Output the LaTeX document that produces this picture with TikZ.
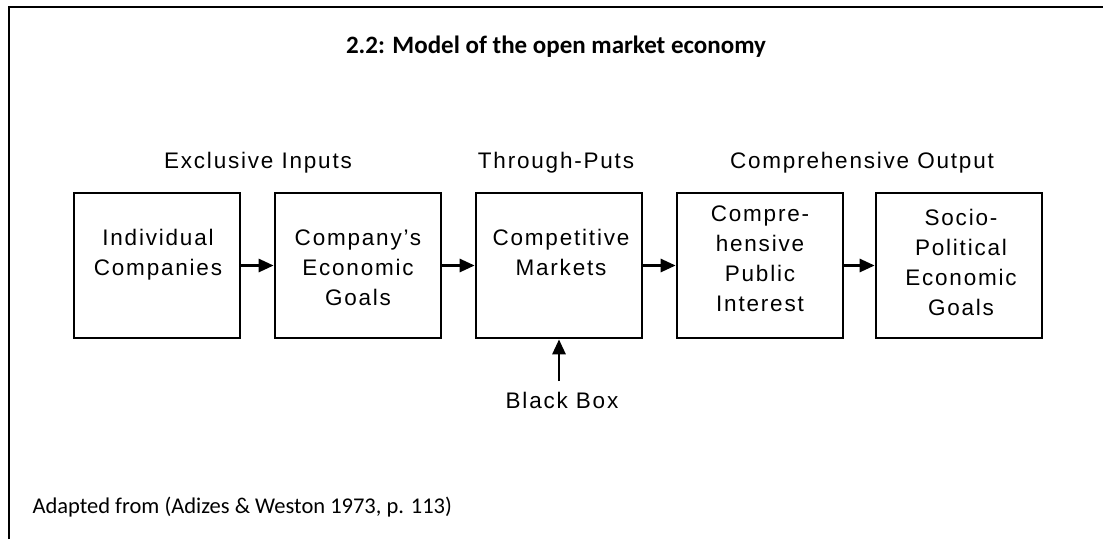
\documentclass[tikz,border=0pt]{standalone}
\usepackage{fontspec}
\setmainfont{Carlito}
\newfontfamily\boxfont[LetterSpace=8]{Liberation Sans}
\usetikzlibrary{arrows.meta, positioning}

\begin{document}
\begin{tikzpicture}[x=1pt, y=-1pt,
        block/.style={draw, line width=2.7pt, minimum width=166pt, minimum height=145pt, inner sep=0pt},
        blocktext/.style={align=center, inner sep=0pt, font=\boxfont\fontsize{22.5}{30}\selectfont},
        flow/.style={line width=2.8pt, -{Triangle[length=15pt, width=13pt]}}
    ]
    \useasboundingbox (0,0) rectangle (1103,539);
    \draw[line width=2.8pt] (9,539) -- (9,7) -- (1103,7);

    \node[font=\bfseries\fontsize{25}{30}\selectfont] (title) at (556, 47) {2.2: Model of the open market economy};

    % column headings
    \node[blocktext] (inputs) at (258, 163) {Exclusive Inputs};
    \node[blocktext] (through) at (556, 163) {Through-Puts};
    \node[blocktext] (output) at (862, 163) {Comprehensive Output};

    % the five boxes
    \node[block] (indiv) at (157, 265.5) {};
    \node[block] (goals) at (358, 265.5) {};
    \node[block] (markets) at (559, 265.5) {};
    \node[block] (public) at (760, 265.5) {};
    \node[block] (socio) at (959, 265.5) {};

    \node[blocktext] (indiv-t) at (158, 255) {Individual\\Companies};
    \node[blocktext] (goals-t) at (358, 268) {Company’s\\Economic\\Goals};
    \node[blocktext] (markets-t) at (561, 252) {Competitive\\Markets};
    \node[blocktext] (public-t) at (760, 259) {Compre-\\hensive\\Public\\Interest};
    \node[blocktext] (socio-t) at (961, 262) {Socio-\\Political\\Economic\\Goals};

    \draw[flow] (indiv) -- (goals);
    \draw[flow] (goals) -- (markets);
    \draw[flow] (markets) -- (public);
    \draw[flow] (public) -- (socio);

    % black box input from below
    \node[blocktext] (blackbox) at (562, 400) {Black Box};
    \coordinate (bbtail) at (559, 381);
    \draw[flow] (bbtail) -- (markets.south);

    \node[anchor=west, font=\fontsize{22.5}{27}\selectfont] (source) at (29, 507) {Adapted from (Adizes \& Weston 1973, p. 113)};
\end{tikzpicture}
\end{document}
